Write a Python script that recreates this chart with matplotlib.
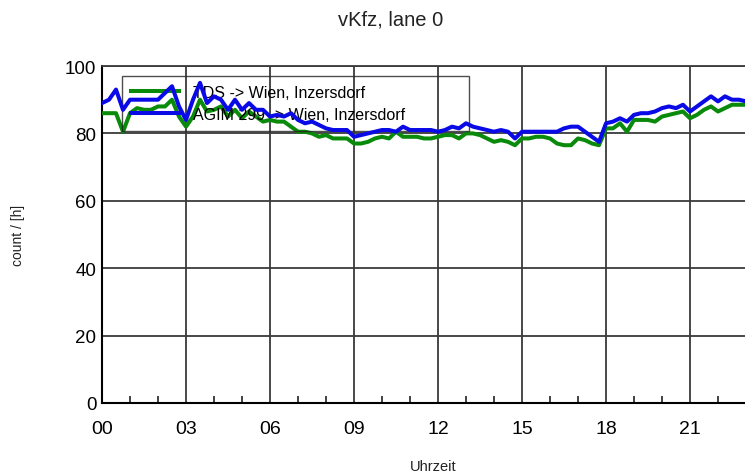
import matplotlib
matplotlib.use("Agg")
import matplotlib.pyplot as plt
import numpy as np

plt.rcParams["font.family"] = ["Liberation Sans", "DejaVu Sans"]

# quarter-hour readings, hours 0.00 .. 23.75
hours = np.arange(0, 24, 0.25)
tds = [86, 86, 86, 80.5, 86, 87.5, 87, 87, 88, 88, 90, 85,
       82, 85, 90, 86.5, 87, 88, 85, 87, 84.5, 86.5, 85, 83.5,
       84, 83.5, 83.5, 82, 80.5, 80.5, 80, 79, 79.5, 78.5, 78.5, 78.5,
       77, 77, 77.5, 78.5, 79, 78.5, 80.5, 79, 79, 79, 78.5, 78.5,
       79, 79.5, 79.5, 78.5, 80, 80, 79.5, 78.5, 77.5, 78, 77.5, 76.5,
       78.5, 78.5, 79, 79, 78.5, 77, 76.5, 76.5, 78.5, 78, 77, 76.5,
       81.5, 81.5, 83, 80.5, 84, 84, 84, 83.5, 85, 85.5, 86, 86.5,
       84.5, 85.5, 87, 88, 86.5, 87.5, 88.5, 88.5, 88.5, 88.5, 88.5, 88.5]
agim = [89, 90, 93, 87, 90, 90, 90, 90, 90, 92, 94, 88,
        84, 90, 95, 89, 91, 90, 87, 90, 87, 89, 87, 87,
        85, 85.5, 85, 86, 84, 83, 83.5, 82.5, 81.5, 81, 81, 81,
        79, 79.5, 80, 80.5, 81, 81, 80.5, 82, 81, 81, 81, 81,
        80.5, 81, 82, 81.5, 83, 82, 81.5, 81, 80.5, 81, 80.5, 78.5,
        80.5, 80.5, 80.5, 80.5, 80.5, 80.5, 81.5, 82, 82, 80.5, 79, 77.5,
        83, 83.5, 84.5, 83.5, 85.5, 86, 86, 86.5, 87.5, 88, 87.5, 88.5,
        86.5, 88, 89.5, 91, 89.5, 91, 90, 90, 89.5, 89.5, 89.5, 89.5]
labels = ["TDS -> Wien, Inzersdorf", "AGIM 299 -> Wien, Inzersdorf"]
xticks = [0, 3, 6, 9, 12, 15, 18, 21]
yticks = [0, 20, 40, 60, 80, 100]

W, H = 745, 477
fig = plt.figure(figsize=(W / 100, H / 100), dpi=100)
fig.patch.set_facecolor("white")
# axes runs past the right edge of the image, like the reference crop
ax = fig.add_axes([102 / W, 73 / H, 672 / W, 337 / H])

ax.plot(hours, tds, color="#0a8a0a", lw=2.9, zorder=3, label=labels[0])
ax.plot(hours, agim, color="#0a0ae6", lw=2.9, zorder=4, label=labels[1])

ax.set_xlim(0, 24)
ax.set_ylim(0, 100)
ax.set_xticks(xticks)
ax.set_xticklabels([f"{h:02d}" for h in xticks])
ax.set_xticks(range(0, 24), minor=True)
ax.set_yticks(yticks)
ax.grid(True, which="major", color="#3a3a3a", lw=1.3, zorder=1)
ax.tick_params(axis="x", which="major", direction="in", length=0, labelsize=14, pad=12)
ax.tick_params(axis="x", which="minor", direction="in", length=5, width=1.2, color="#222")
ax.tick_params(axis="y", direction="in", length=0, labelsize=13.5, pad=4)
ax.spines["right"].set_visible(False)
ax.spines["left"].set_linewidth(1.5)
ax.spines["bottom"].set_linewidth(1.5)
ax.spines["top"].set_color("#3a3a3a")
ax.spines["top"].set_linewidth(1.3)

leg = ax.legend(loc="upper left", bbox_to_anchor=(20 / 672, 0.0, 347 / 672, 327 / 337),
                mode="expand", fontsize=11.5, frameon=True, fancybox=False,
                edgecolor="#222", facecolor="none", borderpad=0.55, labelspacing=0.45,
                handlelength=3.0, handletextpad=0.9, borderaxespad=0)
leg.get_frame().set_linewidth(1.0)
leg.set_zorder(3.5)

fig.text(391 / W, 1 - 20 / H, "vKfz, lane 0", ha="center", va="center", fontsize=14.5, color="#222")
fig.text(433 / W, 1 - 467 / H, "Uhrzeit", ha="center", va="center", fontsize=10.5, color="#222")
fig.text(18 / W, 1 - 235 / H, "count / [h]", ha="center", va="center", rotation=90,
         fontsize=10, color="#222")

fig.savefig("out.png", dpi=100, facecolor=fig.get_facecolor())
